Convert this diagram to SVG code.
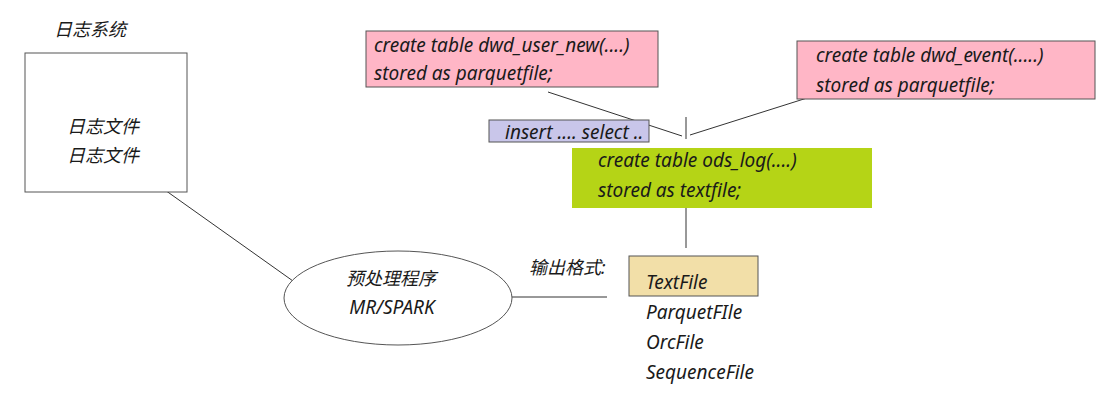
<svg xmlns="http://www.w3.org/2000/svg" width="1116" height="402" viewBox="0 0 1116 402">
<style>
text{font-family:"Noto Sans","Noto Sans CJK SC",sans-serif;font-style:italic;font-size:19px;fill:#1a1a1a}
text.cjk{font-size:18px}
.box{stroke:#555;stroke-width:1}
.ln{stroke:#333;stroke-width:1;fill:none}
</style>
<rect width="1116" height="402" fill="#fff"/>
<g id="connectors">
<line class="ln" x1="148" y1="178" x2="293" y2="281"/>
<line class="ln" x1="512" y1="297" x2="607" y2="297"/>
<line class="ln" x1="686" y1="208" x2="686" y2="248"/>
<line class="ln" x1="686" y1="117" x2="686" y2="139"/>
<line class="ln" x1="548" y1="92" x2="682" y2="136"/>
<line class="ln" x1="690" y1="135" x2="826" y2="92"/>
</g>
<g id="logsys">
<text class="cjk" x="54" y="36">日志系统</text>
<rect class="box" x="25" y="53" width="162" height="139" fill="#fff"/>
<text class="cjk" x="67" y="133">日志文件</text>
<text class="cjk" x="67" y="162">日志文件</text>
</g>
<g id="preprocess">
<ellipse class="box" cx="398" cy="298" rx="114" ry="47" fill="#fff"/>
<text class="cjk" x="391" y="285" text-anchor="middle">预处理程序</text>
<text x="392" y="314" text-anchor="middle">MR/SPARK</text>
</g>
<g id="dwd_user_new">
<rect class="box" x="366" y="31" width="292" height="56" fill="#ffb6c6"/>
<text x="374" y="52">create table dwd_user_new(....)</text>
<text x="374" y="80">stored as parquetfile;</text>
</g>
<g id="dwd_event">
<rect class="box" x="797" y="41" width="298" height="58" fill="#ffb6c6"/>
<text x="816" y="62">create table dwd_event(.....)</text>
<text x="816" y="92">stored as parquetfile;</text>
</g>
<g id="insert">
<rect class="box" x="489" y="120" width="160" height="22" fill="#c9c6ea"/>
<text x="505" y="139">insert .... select ..</text>
</g>
<g id="ods_log">
<rect x="572" y="148" width="300" height="60" fill="#b5d416"/>
<text x="598" y="167">create table ods_log(....)</text>
<text x="598" y="197">stored as textfile;</text>
</g>
<g id="formats">
<text class="cjk" x="529" y="274">输出格式:</text>
<rect class="box" x="629" y="256" width="129" height="40" fill="#f2dfa8"/>
<text x="646" y="289">TextFile</text>
<text x="646" y="319">ParquetFIle</text>
<text x="646" y="349">OrcFile</text>
<text x="646" y="379">SequenceFile</text>
</g>
</svg>
